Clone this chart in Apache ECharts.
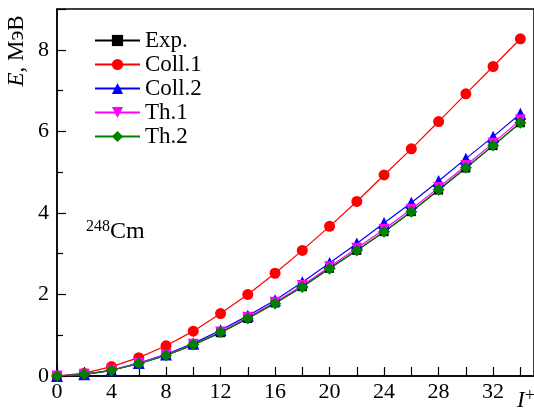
<!DOCTYPE html>
<html>
<head>
<meta charset="utf-8">
<script src="https://cdn.jsdelivr.net/npm/echarts@6/dist/echarts.min.js"></script>
<style>
  html, body { margin: 0; padding: 0; background: #fff; }
  #chart { width: 534px; height: 410px; }
</style>
</head>
<body>
<div id="chart"></div>
<script>
// spin values I
var spins = [0, 2, 4, 6, 8, 10, 12, 14, 16, 18, 20, 22, 24, 26, 28, 30, 32, 34];
// energies, MeV
var expE   = [0, 0.04, 0.14, 0.30, 0.51, 0.76, 1.06, 1.41, 1.79, 2.19, 2.64, 3.08, 3.54, 4.03, 4.56, 5.10, 5.65, 6.21];
var coll1E = [0, 0.07, 0.23, 0.45, 0.74, 1.10, 1.53, 2.00, 2.52, 3.08, 3.67, 4.28, 4.93, 5.57, 6.24, 6.92, 7.59, 8.27];
var coll2E = [0, 0.04, 0.14, 0.32, 0.53, 0.80, 1.12, 1.48, 1.86, 2.30, 2.77, 3.25, 3.75, 4.25, 4.78, 5.33, 5.87, 6.43];
var th1E   = [0, 0.04, 0.14, 0.31, 0.52, 0.78, 1.08, 1.44, 1.81, 2.22, 2.68, 3.13, 3.60, 4.09, 4.62, 5.16, 5.71, 6.28];
var th2E   = [0, 0.04, 0.14, 0.30, 0.50, 0.77, 1.07, 1.41, 1.78, 2.18, 2.63, 3.08, 3.54, 4.03, 4.57, 5.11, 5.65, 6.21];

var FONT = "Liberation Serif";

function pairs(ys) {
  return spins.map(function (x, i) { return [x, ys[i]]; });
}

function mkSeries(name, ys, color, symbol, size) {
  return {
    name: name,
    type: "line",
    data: pairs(ys),
    symbol: symbol,
    symbolSize: size,
    lineStyle: { color: color, width: 1.2 },
    itemStyle: { color: color },
    animation: false
  };
}

var myChart = echarts.init(document.getElementById("chart"));
var option = {
  backgroundColor: "#fff",
  grid: {
    left: 57,
    right: -7,
    top: 9,
    bottom: 34,
    show: true,
    borderColor: "#000",
    borderWidth: 1.5,
    containLabel: false
  },
  legend: {
    orient: "vertical",
    left: 89,
    top: 24,
    itemWidth: 45,
    itemHeight: 14,
    itemGap: 1,
    textStyle: { fontFamily: FONT, fontSize: 23, color: "#000", lineHeight: 23 },
    data: ["Exp.", "Coll.1", "Coll.2", "Th.1", "Th.2"]
  },
  xAxis: {
    type: "value",
    min: 0,
    max: 35,
    interval: 2,
    axisLine: { lineStyle: { color: "#000", width: 1.5 } },
    axisTick: { inside: true, length: 9, lineStyle: { color: "#000", width: 1.2 } },
    axisLabel: {
      interval: 1,
      showMaxLabel: false,
      margin: 5,
      fontFamily: FONT, fontSize: 22, color: "#000",
      formatter: function (v) { return v % 4 === 0 ? v : ""; }
    },
    splitLine: { show: false }
  },
  yAxis: {
    type: "value",
    min: 0,
    max: 9,
    interval: 2,
    axisLine: { lineStyle: { color: "#000", width: 1.5 } },
    axisTick: { inside: true, length: 9, lineStyle: { color: "#000", width: 1.2 } },
    minorTick: { show: true, splitNumber: 2, length: 6, lineStyle: { color: "#000", width: 1.2 } },
    axisLabel: { margin: 8, fontFamily: FONT, fontSize: 22, color: "#000", showMaxLabel: false },
    splitLine: { show: false }
  },
  graphic: [
    {
      type: "text",
      x: 17, y: 51,
      rotation: Math.PI / 2,
      style: {
        text: "{i|E}, МэВ",
        align: "center",
        verticalAlign: "middle",
        fontFamily: FONT, fontSize: 23, fill: "#000",
        rich: { i: { fontStyle: "italic", fontFamily: FONT, fontSize: 23 } }
      }
    },
    {
      type: "text",
      x: 526, y: 401,
      style: {
        text: "{i|I}{s|+}",
        align: "center",
        verticalAlign: "middle",
        fontFamily: FONT, fontSize: 23, fill: "#000",
        rich: {
          i: { fontStyle: "italic", fontFamily: FONT, fontSize: 23 },
          s: { fontFamily: FONT, fontSize: 18, padding: [0, 0, 10, 0] }
        }
      }
    },
    {
      type: "text",
      x: 86, y: 232,
      style: {
        text: "{s|248}{n|Cm}",
        verticalAlign: "middle",
        fontFamily: FONT, fontSize: 24, fill: "#000",
        rich: {
          s: { fontFamily: FONT, fontSize: 16, padding: [0, 0, 11, 0] },
          n: { fontFamily: FONT, fontSize: 24 }
        }
      }
    }
  ],
  series: [
    mkSeries("Exp.", expE, "#000000", "rect", 9),
    mkSeries("Coll.1", coll1E, "#ff0000", "circle", 11),
    mkSeries("Coll.2", coll2E, "#0000ff", "triangle", 12),
    mkSeries("Th.1", th1E, "#ff00ff", "path://M0,0L10,0L5,9Z", 11),
    mkSeries("Th.2", th2E, "#008000", "diamond", 12)
  ]
};
myChart.setOption(option);
</script>
</body>
</html>
